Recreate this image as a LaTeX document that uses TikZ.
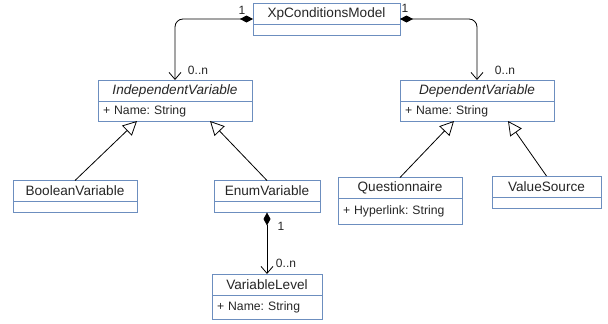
\documentclass[tikz,border=0pt]{standalone}
\usepackage{fontspec}
\setmainfont{Liberation Sans}
\usetikzlibrary{arrows.meta,positioning}
\definecolor{umlblue}{RGB}{108,142,191}
\frenchspacing

\begin{document}
\begin{tikzpicture}[x=1pt,y=-1pt,
classhead/.style={
rectangle,
draw=umlblue,
line width=0.9pt,
fill=white,
minimum height=21pt,
inner sep=0pt,
outer sep=0pt,
text=black!85,
font=\fontsize{13.6}{16}\selectfont
},
classbody/.style={
rectangle,
draw=umlblue,
line width=0.9pt,
fill=white,
minimum height=11pt,
inner xsep=5pt,
inner ysep=0pt,
outer sep=0pt,
align=left,
text=black!85,
font=\fontsize{12.2}{14}\selectfont
},
mult/.style={
draw=none,
fill=none,
inner sep=0pt,
text=black!85,
font=\fontsize{12}{14}\selectfont
},
comp/.style={
{Diamond[length=13pt,width=7pt]}-{Straight Barb[length=7pt,width=12pt]},
line width=0.8pt
},
gen/.style={
-{Triangle[open,length=14pt,width=14pt,fill=white]},
line width=0.8pt
}]

\useasboundingbox (0,0) rectangle (608,324);

% classes
\node [classhead, minimum width=147pt] (xp) at (326.5,13.5) {XpConditionsModel};
\node [classbody, minimum width=147pt, below=0pt of xp] (xpb) {};

\node [classhead, minimum width=154pt] (iv) at (175,90.5) {\itshape IndependentVariable};
\node [classbody, minimum width=154pt, text width=144pt, minimum height=20pt, below=0pt of iv] (ivb) {+ Name: String};

\node [classhead, minimum width=154pt] (dv) at (477,90.5) {\itshape DependentVariable};
\node [classbody, minimum width=154pt, text width=144pt, minimum height=20pt, below=0pt of dv] (dvb) {+ Name: String};

\node [classhead, minimum width=124pt] (bool) at (75,191) {BooleanVariable};
\node [classbody, minimum width=124pt, below=0pt of bool] (boolb) {};

\node [classhead, minimum width=106pt] (enum) at (267,191) {EnumVariable};
\node [classbody, minimum width=106pt, below=0pt of enum] (enumb) {};

\node [classhead, minimum width=124pt] (quest) at (400,188) {Questionnaire};
\node [classbody, minimum width=124pt, text width=114pt, minimum height=26pt, below=0pt of quest] (questb) {+ Hyperlink: String};

\node [classhead, minimum width=109pt] (vsrc) at (546.5,186.5) {ValueSource};
\node [classbody, minimum width=109pt, below=0pt of vsrc] (vsrcb) {};

\node [classhead, minimum width=110pt] (vlev) at (267,284.5) {VariableLevel};
\node [classbody, minimum width=110pt, text width=100pt, minimum height=24pt, below=0pt of vlev] (vlevb) {+ Name: String};

% multiplicities
\node [mult] (xpl) at (242,10) {1};
\node [mult] (xpr) at (405,8) {1};
\node [mult] (ivn) at (198,70) {0..n};
\node [mult] (dvn) at (505,70) {0..n};
\node [mult] (enumone) at (281,226) {1};
\node [mult] (vlevn) at (286,263) {0..n};

% composition
\draw[comp,rounded corners=8pt] ([yshift=-5.5pt]xp.west) -| (iv.north);
\draw[comp,rounded corners=8pt] ([yshift=-5.5pt]xp.east) -| (dv.north);
\draw[comp] (enumb.south) -- (vlev.north);

% generalization
\draw[gen] (bool.north) -- ([xshift=-38pt]ivb.south);
\draw[gen] (enum.north) -- ([xshift=35pt]ivb.south);
\draw[gen] (quest.north) -- ([xshift=-23pt]dvb.south);
\draw[gen] (vsrc.north) -- ([xshift=31pt]dvb.south);

\end{tikzpicture}
\end{document}
